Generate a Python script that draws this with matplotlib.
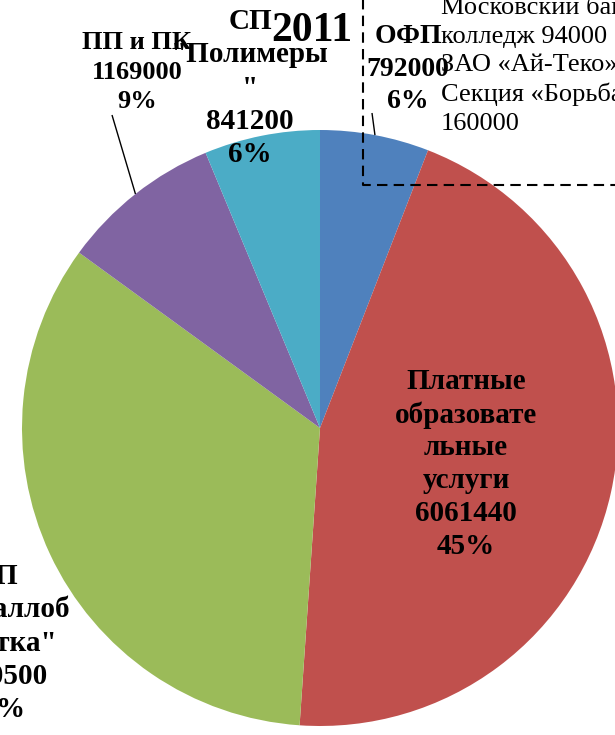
import numpy as np
import matplotlib
matplotlib.use("Agg")
import matplotlib.pyplot as plt

# ---- data ----
categories = ["ОФП", "Платные\nобразовате\nльные\nуслуги", "СП\n\"Металлоб\nработка\"",
              "ПП и ПК", "СП\n\"Полимеры\n\""]
values = [792000, 6061440, 4550500, 1169000, 841200]
colors = ["#4F81BD", "#C0504D", "#9BBB59", "#8064A2", "#4BACC6"]
title = "2011"
legend_lines = ["Московский банковский", "колледж 94000", "ЗАО «Ай-Теко» 95000",
                "Секция «Борьба»", "160000"]

W, H = 615, 735
fig = plt.figure(figsize=(W / 100, H / 100), dpi=100)
ax = fig.add_axes([0, 0, 1, 1])
plt.rcParams['font.family'] = ['Liberation Serif', 'DejaVu Serif']

def Y(y):
    return H - y

cx, cy, R = 320, 428, 298
wedges, _ = ax.pie(values, colors=colors, startangle=90, counterclock=False,
                   center=(cx, Y(cy)), radius=R, wedgeprops=dict(linewidth=0))
ax.set_xlim(0, W)
ax.set_ylim(0, H)
ax.set_aspect('auto')
ax.axis('off')

total = sum(values)
# label placement (pixel coords from top-left), font sizes, line spacing
label_pos = [(408, 69), (466, 464), (-3, 643), (137, 72), (250, 88)]
label_size = [20, 21, 21, 19, 21]
label_ls = [1.42, 1.28, 1.28, 1.34, 1.29]
for i, (name, v) in enumerate(zip(categories, values)):
    pct = round(v / total * 100)
    txt = f"{name}\n{v}\n{pct}%"
    x, y = label_pos[i]
    ax.text(x, Y(y), txt, ha='center', va='center', multialignment='center',
            fontsize=label_size[i], fontweight='bold', color='black',
            linespacing=label_ls[i], clip_on=False, zorder=5)

# leader lines from labels to wedge mid-points
leader_start = {0: (372, 113), 3: (112, 115)}
for i, (sx, sy) in leader_start.items():
    w = wedges[i]
    mid = np.deg2rad((w.theta1 + w.theta2) / 2)
    ex, ey = cx + R * np.cos(mid), Y(cy) + R * np.sin(mid)
    ax.plot([sx, ex], [Y(sy), ey], color='black', lw=1.0, zorder=4,
            solid_capstyle='butt')

# title
ax.text(312, Y(31), title, ha='center', va='center', fontsize=30,
        fontweight='bold', color='black', zorder=6)

# dashed legend box (cropped)
ax.plot([363, 363, W + 10], [H + 10, Y(185), Y(185)], color='black', lw=1.5,
        linestyle=(0, (5, 3)), zorder=3, clip_on=False)
ax.text(441, Y(66), "\n".join(legend_lines), ha='left', va='center',
        fontsize=19, color='black', linespacing=1.37, zorder=6)

fig.savefig("out.png", dpi=100)
